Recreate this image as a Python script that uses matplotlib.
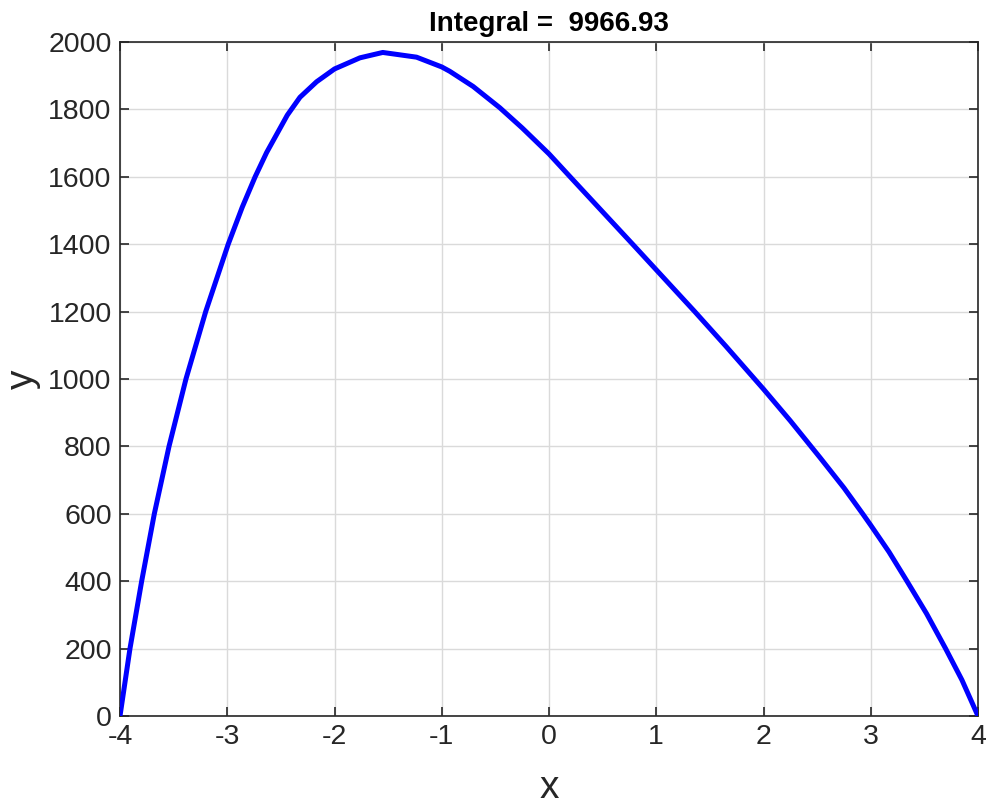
import matplotlib
matplotlib.use("Agg")
import matplotlib.pyplot as plt

x_vals = [-4.0, -3.907, -3.798, -3.68, -3.543, -3.385, -3.201, -2.991, -2.86, -2.74,
          -2.633, -2.44, -2.322, -2.167, -2.0, -1.763, -1.55, -1.235, -1.0, -0.925,
          -0.707, -0.459, -0.25, 0.0, 0.194, 0.5, 0.78, 1.0, 1.359, 1.65,
          1.909, 2.0, 2.25, 2.524, 2.75, 2.927, 3.0, 3.17, 3.338, 3.52,
          3.698, 3.85, 4.0]
y_vals = [0, 200, 400, 600, 800, 1000, 1200, 1400, 1510, 1600,
          1672, 1783, 1836, 1882, 1920, 1953, 1969, 1955, 1926, 1913,
          1868, 1805, 1745, 1668, 1601, 1496, 1400, 1324, 1200, 1097,
          1003, 970, 876, 768, 677, 599, 566, 487, 400, 304,
          200, 107, 0]
x_ticks = [-4, -3, -2, -1, 0, 1, 2, 3, 4]
y_ticks = [0, 200, 400, 600, 800, 1000, 1200, 1400, 1600, 1800, 2000]
title_text = "Integral =  9966.93"

plt.rcParams['font.family'] = ['Liberation Sans', 'DejaVu Sans']

fig = plt.figure(figsize=(9.89, 8.10), dpi=100)
ax = fig.add_axes([120/989, 1-716/810, (978-120)/989, (716-42)/810])

dark = '#262626'
ax.plot(x_vals, y_vals, color=(0, 0, 1), lw=3.6, solid_capstyle='butt',
        solid_joinstyle='round', zorder=3)

ax.set_xlim(-4, 4)
ax.set_ylim(0, 2000)
ax.set_xticks(x_ticks)
ax.set_yticks(y_ticks)
ax.set_xticklabels([str(t) for t in x_ticks])
ax.set_yticklabels([str(t) for t in y_ticks])
ax.grid(True, color='#dadada', lw=1.0, zorder=0)
ax.set_axisbelow(True)
ax.tick_params(direction='in', length=6.5, width=1.2, colors=dark, labelsize=20.5,
               top=True, right=True, pad=6)
for s in ax.spines.values():
    s.set_color(dark)
    s.set_linewidth(1.2)

ax.set_xlabel('x', fontsize=28, color=dark, labelpad=14)
ax.set_ylabel('y', fontsize=28, color=dark, labelpad=5)
ax.set_title(title_text, fontsize=20, fontweight='bold', color='black', pad=8)

fig.savefig('out.png', dpi=100, facecolor='white')
